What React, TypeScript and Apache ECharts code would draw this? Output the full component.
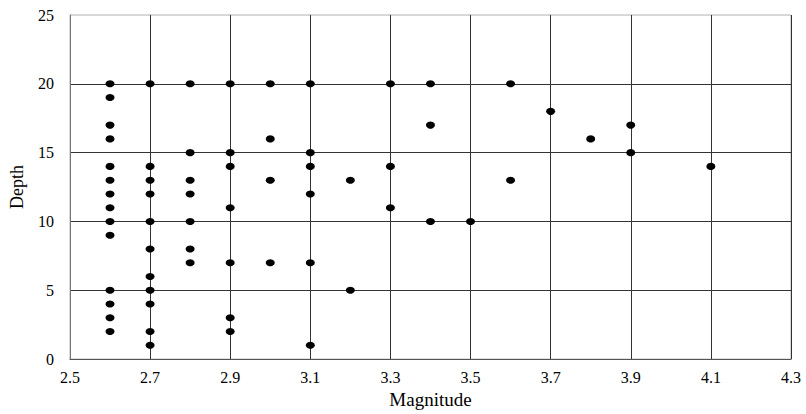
import React, { useEffect, useRef } from "react";
import * as echarts from "echarts";

// Each point: magnitude[i], depth[i]
const magnitude: number[] = [
  2.6, 2.6, 2.6, 2.6, 2.6, 2.6, 2.6, 2.6, 2.6, 2.6, 2.6, 2.6, 2.6, 2.6,
  2.7, 2.7, 2.7, 2.7, 2.7, 2.7, 2.7, 2.7, 2.7, 2.7, 2.7,
  2.8, 2.8, 2.8, 2.8, 2.8, 2.8, 2.8,
  2.9, 2.9, 2.9, 2.9, 2.9, 2.9, 2.9,
  3.0, 3.0, 3.0, 3.0,
  3.1, 3.1, 3.1, 3.1, 3.1, 3.1,
  3.2, 3.2,
  3.3, 3.3, 3.3,
  3.4, 3.4, 3.4,
  3.5,
  3.6, 3.6,
  3.7,
  3.8,
  3.9, 3.9,
  4.1,
];

const depth: number[] = [
  20, 19, 17, 16, 14, 13, 12, 11, 10, 9, 5, 4, 3, 2,
  20, 14, 13, 12, 10, 8, 6, 5, 4, 2, 1,
  20, 15, 13, 12, 10, 8, 7,
  20, 15, 14, 11, 7, 3, 2,
  20, 16, 13, 7,
  20, 15, 14, 12, 7, 1,
  13, 5,
  20, 14, 11,
  20, 17, 10,
  10,
  20, 13,
  18,
  16,
  17, 15,
  14,
];

const xTitle = "Magnitude";
const yTitle = "Depth";

export default function App() {
  const ref = useRef<HTMLDivElement>(null);
  useEffect(() => {
    document.body.style.margin = "0";
    if (!ref.current) return;
    const chart = echarts.init(ref.current, undefined, { renderer: "svg" });
    const font = "'Liberation Serif', 'Times New Roman', serif";
    chart.setOption({
      animation: false,
      backgroundColor: "#ffffff",
      grid: {
        left: 69,
        right: 15,
        top: 15,
        bottom: 50,
        show: true,
        borderColor: "#b0b0b0",
        borderWidth: 1,
      },
      xAxis: {
        type: "value",
        min: 2.5,
        max: 4.3,
        interval: 0.2,
        name: xTitle,
        nameLocation: "middle",
        nameGap: 29,
        nameTextStyle: { fontFamily: font, fontSize: 19, color: "#000" },
        axisLine: { show: true, onZero: false, lineStyle: { color: "#555", width: 1 } },
        axisTick: { show: false },
        axisLabel: {
          fontFamily: font,
          fontSize: 16,
          color: "#000",
          margin: 10,
          formatter: (v: number) => (Math.round(v * 10) / 10).toFixed(1),
        },
        splitLine: { show: true, lineStyle: { color: "#333", width: 1 } },
      },
      yAxis: {
        type: "value",
        min: 0,
        max: 25,
        interval: 5,
        name: yTitle,
        nameLocation: "middle",
        nameRotate: 90,
        nameGap: 44,
        nameTextStyle: { fontFamily: font, fontSize: 18, color: "#000" },
        axisLine: { show: true, lineStyle: { color: "#777", width: 1 } },
        axisTick: { show: false },
        axisLabel: { fontFamily: font, fontSize: 16, color: "#000", margin: 16 },
        splitLine: { show: true, showMaxLine: false, lineStyle: { color: "#333", width: 1 } },
      },
      series: [
        {
          type: "scatter",
          data: magnitude.map((m, i) => [m, depth[i]]),
          symbol: "circle",
          symbolSize: [9, 7],
          itemStyle: { color: "#000", opacity: 1 },
        },
      ],
    });
    return () => chart.dispose();
  }, []);
  return (
    <div
      ref={ref}
      style={{ width: 806, height: 414, position: "absolute", left: 0, top: 0 }}
    />
  );
}
